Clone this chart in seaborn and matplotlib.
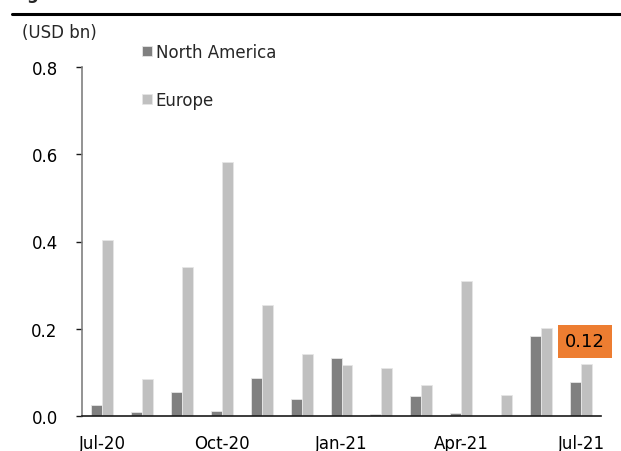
import matplotlib
matplotlib.use("Agg")
import matplotlib.pyplot as plt
import seaborn as sns
import pandas as pd

# Monthly values, USD bn
months = ["Jul-20", "Aug-20", "Sep-20", "Oct-20", "Nov-20", "Dec-20", "Jan-21",
          "Feb-21", "Mar-21", "Apr-21", "May-21", "Jun-21", "Jul-21"]
north_america = [0.025, 0.010, 0.055, 0.012, 0.088, 0.040, 0.132,
                 0.005, 0.046, 0.008, 0.001, 0.183, 0.077]
europe = [0.403, 0.085, 0.342, 0.583, 0.254, 0.141, 0.117,
          0.110, 0.070, 0.310, 0.047, 0.202, 0.120]
series_names = ["North America", "Europe"]
tick_labels = ["Jul-20", "Oct-20", "Jan-21", "Apr-21", "Jul-21"]

df = pd.DataFrame({
    "month": months * 2,
    "value": north_america + europe,
    "region": [series_names[0]] * len(months) + [series_names[1]] * len(months),
})

sns.set_theme(style="white")
plt.rcParams["font.family"] = ["DejaVu Sans"]

fig = plt.figure(figsize=(6.21, 4.52), dpi=100)
ax = fig.add_axes([82 / 621, 1 - 417 / 452, (601 - 82) / 621, (417 - 68) / 452])

palette = {"North America": "#808080", "Europe": "#C0C0C0"}
sns.barplot(data=df, x="month", y="value", hue="region", order=months,
            hue_order=series_names, palette=palette, width=0.55,
            edgecolor="#e6e6e6", linewidth=0.6, saturation=1, ax=ax)

ax.set_ylim(0, 0.8)
ax.set_xlim(-0.5, len(months) - 0.5)
yt = [0.0, 0.2, 0.4, 0.6, 0.8]
ax.set_yticks(yt)
ax.set_yticklabels([f"{v:.1f}" for v in yt], fontsize=12)
ax.set_xticks([months.index(m) for m in tick_labels])
ax.set_xticklabels(tick_labels, fontsize=12)
ax.set_xlabel("")
ax.set_ylabel("")

for side in ["top", "right"]:
    ax.spines[side].set_visible(False)
ax.spines["left"].set_color("#808080")
ax.spines["left"].set_linewidth(1.2)
ax.spines["bottom"].set_color("#1a1a1a")
ax.spines["bottom"].set_linewidth(1.2)
ax.tick_params(axis="y", which="major", direction="out", length=4.5, width=1,
               color="#1a1a1a", left=True, pad=13, labelcolor="black")
ax.tick_params(axis="x", length=0, pad=13, labelcolor="black")

# Legend with wide vertical spacing
handles, labels = ax.get_legend_handles_labels()
ax.legend(handles, labels, loc="upper left", bbox_to_anchor=(135 / 621, 1 - 37 / 452),
          bbox_transform=fig.transFigure, frameon=False, fontsize=12,
          handlelength=0.6, handleheight=0.6, handletextpad=0.25,
          labelspacing=1.8, borderaxespad=0)

# Value callout for the latest month
last = len(months) - 1
ax.annotate(f"{europe[last]:.2f}", xy=(last, europe[last]), xytext=(3, 16),
            textcoords="offset points", ha="center", va="center", fontsize=13,
            color="black", annotation_clip=False,
            bbox=dict(boxstyle="square,pad=0.4", fc="#ED7D31", ec="none"))

# Unit label and title rule
fig.text(22 / 621, 1 - 33 / 452, "(USD bn)", fontsize=12, va="center", ha="left")
fig.add_artist(plt.Line2D([12 / 621, 1], [1 - 15 / 452, 1 - 15 / 452],
                          transform=fig.transFigure, color="black", linewidth=2.2))
fig.text(10 / 621, 1 + 1 / 452, "Figure", fontsize=12, fontweight="bold",
         va="baseline", ha="left")

fig.savefig("out.png", dpi=100)
